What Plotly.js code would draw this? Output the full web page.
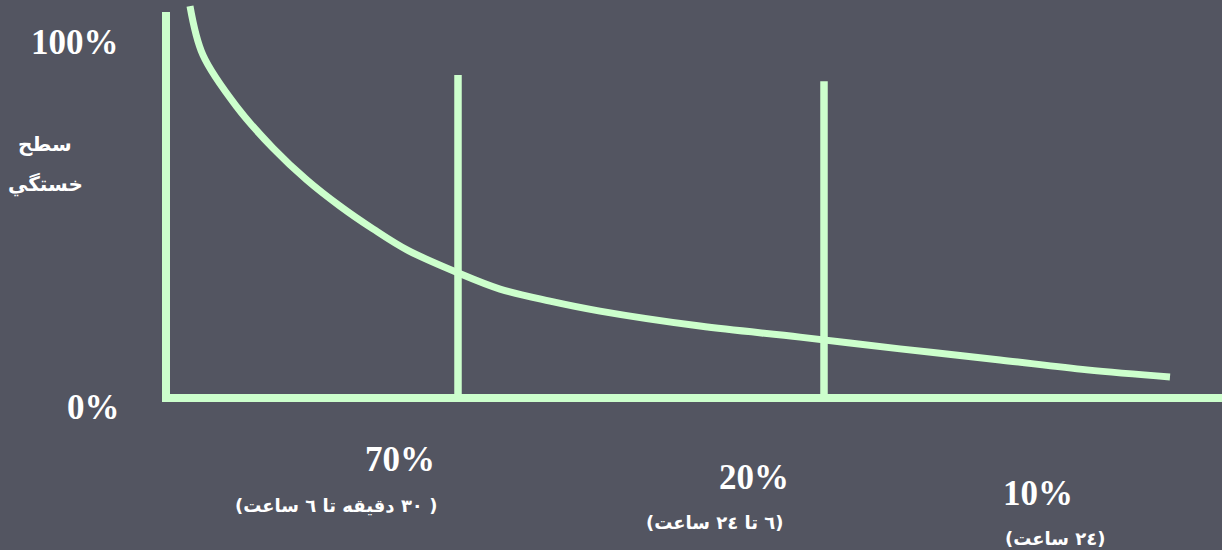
<!DOCTYPE html>
<html>
<head>
<meta charset="utf-8">
<script src="https://cdn.plot.ly/plotly-3.0.1.min.js"></script>
<style>html,body{margin:0;padding:0;background:#535561;}#chart{width:1222px;height:550px;}</style>
</head>
<body>
<div id="chart"></div>
<script>
// Fatigue-recovery curve (x: time scale, y: fatigue level %)
const curveX = [2.4, 3.7, 7.1, 10.7, 14.1, 17.4, 20.7, 24.1, 29.0, 33.4, 38.4, 43.4, 53.4, 63.4, 73.4, 83.4, 92.1, 100.4];
const curveY = [110.1, 96.3, 81.7, 70.2, 61.2, 53.9, 47.5, 41.6, 35.4, 30.6, 27.2, 24.4, 20.2, 17.1, 13.8, 10.7, 7.9, 5.9];

// Frame (axes) and phase dividers
const axisX = [0, 0, 106];
const axisY = [108.4, 0, 0];
const dividerX = [29.2, 65.8];
const dividerTop = [90.7, 89.0];

// Texts
const yTickLabels = ['100%', '0%'];
const yTitle = ['سطح', 'خستگي'];
const phaseShares = ['70%', '20%', '10%'];
const phaseTimes = ['(٣٠ دقیقه تا ٦ ساعت )', '(٦ تا ٢٤ ساعت)', '(٢٤ ساعت)'];

const green = '#ccffcc';
const traces = [];
traces.push({x: axisX, y: axisY, mode: 'lines', line: {color: green, width: 8}, hoverinfo: 'skip'});
dividerX.forEach((dx, i) => {
  traces.push({x: [dx, dx], y: [0, dividerTop[i]], mode: 'lines', line: {color: green, width: 7.5}, hoverinfo: 'skip'});
});
traces.push({x: curveX, y: curveY, mode: 'lines', line: {color: green, width: 7, shape: 'spline', smoothing: 1}, hoverinfo: 'skip'});

const pctFont = {family: 'Liberation Serif, Times New Roman, serif', size: 35, color: '#ffffff', weight: 'bold'};
const arFont = {family: 'DejaVu Sans, sans-serif', size: 18, color: '#ffffff', weight: 'bold'};
const arTitleFont = {family: 'DejaVu Sans, sans-serif', size: 20, color: '#ffffff', weight: 'bold'};

const annPos = {
  yTick: [[-9.1, 100], [-7.3, -2.8]],
  yTitle: [[-12.1, 71.3], [-12.1, 60.1]],
  share: [[23.4, -17.4], [58.8, -22.2], [87.2, -26.7]],
  time: [[17.0, -30.3], [54.9, -35.1], [88.9, -39.6]]
};
const annotations = [];
yTickLabels.forEach((t, i) => annotations.push({text: t, x: annPos.yTick[i][0], y: annPos.yTick[i][1], showarrow: false, font: pctFont, xanchor: 'center', yanchor: 'middle'}));
yTitle.forEach((t, i) => annotations.push({text: t, x: annPos.yTitle[i][0], y: annPos.yTitle[i][1], showarrow: false, font: arTitleFont, xanchor: 'center', yanchor: 'middle'}));
phaseShares.forEach((t, i) => annotations.push({text: t, x: annPos.share[i][0], y: annPos.share[i][1], showarrow: false, font: pctFont, xanchor: 'center', yanchor: 'middle'}));
phaseTimes.forEach((t, i) => annotations.push({text: t, x: annPos.time[i][0], y: annPos.time[i][1], showarrow: false, font: arFont, xanchor: 'center', yanchor: 'middle'}));

const layout = {
  width: 1222, height: 550,
  margin: {l: 0, r: 0, t: 0, b: 0},
  paper_bgcolor: '#535561', plot_bgcolor: '#535561',
  showlegend: false,
  xaxis: {range: [-16.6, 105.6], visible: false, fixedrange: true},
  yaxis: {range: [-42.7, 111.8], visible: false, fixedrange: true},
  annotations: annotations
};
Plotly.newPlot('chart', traces, layout, {staticPlot: true, displayModeBar: false});
</script>
</body>
</html>
